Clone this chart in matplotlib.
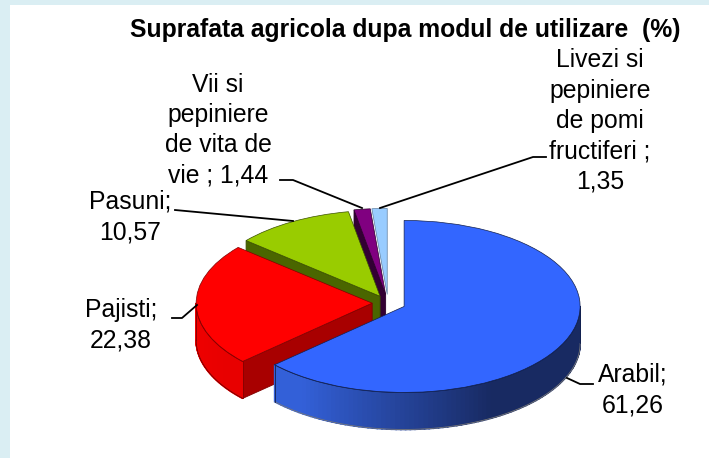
import numpy as np
import matplotlib
matplotlib.use('Agg')
import matplotlib.pyplot as plt
from matplotlib.patches import Rectangle, Polygon
from matplotlib.transforms import Affine2D
from matplotlib.colors import to_rgb

plt.rcParams['font.family'] = ['Liberation Sans', 'DejaVu Sans']

values = [61.26, 22.38, 10.57, 1.44, 1.35]
labels = ['Arabil;\n61,26', 'Pajisti;\n22,38', 'Pasuni;\n10,57',
          'Vii si\npepiniere\nde vita de\nvie ; 1,44',
          'Livezi si\npepiniere\nde pomi\nfructiferi ;\n1,35']
title = 'Suprafata agricola dupa modul de utilizare  (%)'

# look of the pie, in figure pixels (y up)
W, H = 709, 458
cx, cy = 388, 155
rx, ry = 176, 86
depth = 37
explode = [0.10, 0.09, 0.09, 0.10, 0.10]
top_colors = ['#3366ff', '#ff0000', '#99cc00', '#800080', '#99ccff']
cut_colors = ['#1a2f75', '#a80000', '#4a6600', '#330033', '#4d6680']
side_light = ['#3360d8', '#f00000', '#8ab800', '#700070', '#88b0e0']
side_dark = ['#182a62', '#e80000', '#4a6600', '#330033', '#4d6680']
edge_colors = ['#12204d', '#800000', '#3a5000', '#2a002a', '#5f7f9f']
low_colors = ['#777777', '#700000', '#3a5000', '#2a002a', '#5f7f9f']

fig = plt.figure(figsize=(W / 100, H / 100), dpi=100, facecolor='#daeef3')
ax = fig.add_axes([0, 0, 1, 1])
wedges, _ = ax.pie(values, explode=[e * rx for e in explode], radius=rx, center=(cx, cy),
                   startangle=90, counterclock=False)
ax.set_aspect('auto')
ax.set_xlim(0, W)
ax.set_ylim(0, H)
ax.axis('off')
ax.add_patch(Rectangle((10, 0), W - 10, H - 5, fc='white', ec='none', zorder=0))

squash = Affine2D().translate(-cx, -cy).scale(1, ry / rx).translate(cx, cy)


def flat(xy):
    return squash.transform(np.asarray(xy, dtype=float))


def rim(w, a):
    return w.center[0] + rx * np.cos(np.radians(a)), w.center[1] + rx * np.sin(np.radians(a))


# back slices first, blue one last
for z, i in enumerate([4, 3, 2, 1, 0]):
    w = wedges[i]
    zb = (z + 1) * 10
    # cut face on the start edge of the slice (theta2, clockwise pie)
    p = flat([w.center, rim(w, w.theta2)])
    if i in (1, 2, 3):
        ax.add_patch(Polygon([p[0], p[1], p[1] - [0, depth], p[0] - [0, depth]],
                             fc=cut_colors[i], ec=edge_colors[i], lw=0.6, zorder=zb))
    # outer wall, only the part that looks at us
    t1 = w.theta1 % 360
    lo, hi = max(t1, 180), min(t1 + (w.theta2 - w.theta1), 360)
    if hi > lo:
        steps = np.linspace(lo, hi, 90)
        for a0, a1 in zip(steps[:-1], steps[1:]):
            q = flat([rim(w, a0), rim(w, a1)])
            m = 0.5 * (a0 + a1)
            f = np.clip((m - 235) / 65, 0, 1) if i == 0 else np.clip((m - 185) / 30, 0, 1)
            c = (1 - f) * np.array(to_rgb(side_light[i])) + f * np.array(to_rgb(side_dark[i]))
            ax.add_patch(Polygon([q[0], q[1], q[1] - [0, depth], q[0] - [0, depth]],
                                 fc=c, ec=c, lw=1.2, zorder=zb + 1))
        arc = flat([rim(w, a) for a in steps])
        low = arc - [0, depth]
        ax.plot(arc[:, 0], arc[:, 1], color=edge_colors[i], lw=0.8, zorder=zb + 2)
        ax.plot(low[:, 0], low[:, 1], color=low_colors[i], lw=0.6, zorder=zb + 2)
        for k in (0, -1):
            ax.plot([arc[k, 0], low[k, 0]], [arc[k, 1], low[k, 1]], color=edge_colors[i], lw=0.6, zorder=zb + 2)
    w.set_transform(squash + ax.transData)
    w.set(fc=top_colors[i], ec=edge_colors[i], lw=0.5, zorder=zb + 3)

ax.text(405, H - 30, title, ha='center', va='center', fontsize=17.8, fontweight='bold', color='black', zorder=90)

label_pos = [(633, H - 390), (121, H - 325), (130, H - 217), (218, H - 130), (600, H - 121)]
leaders = [
    [(567, H - 378), (580, H - 384), (593, H - 384)],
    [(197, H - 305), (182, H - 318), (172, H - 318)],
    [(293, H - 221), (175, H - 210)],
    [(362, H - 208), (293, H - 180), (280, H - 180)],
    [(380, H - 208), (533, H - 157), (546, H - 157)],
]
for txt, pos, line in zip(labels, label_pos, leaders):
    ax.text(pos[0], pos[1], txt, ha='center', va='center', fontsize=17.8, linespacing=1.33, color='black', zorder=90)
    xs, ys = zip(*line)
    ax.plot(xs, ys, color='black', lw=1.3, zorder=80)

fig.savefig('out.png', dpi=100, facecolor=fig.get_facecolor())
